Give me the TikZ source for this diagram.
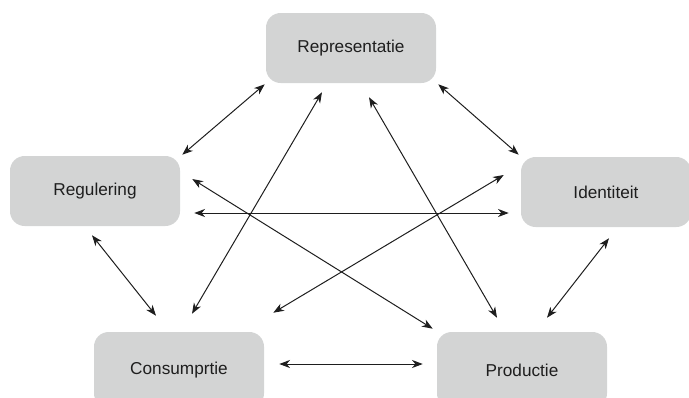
\documentclass[tikz,border=0pt]{standalone}
\usepackage{fontspec}
\setmainfont{Liberation Sans}
\usetikzlibrary{arrows.meta,calc}
\definecolor{boxgray}{RGB}{211,212,212}
\definecolor{ink}{RGB}{30,30,30}
\tikzset{
  topic/.style={rectangle, rounded corners=11pt, fill=boxgray, draw=none,
    minimum width=127.5pt, minimum height=52.5pt, inner sep=0pt,
    font=\fontsize{12.9pt}{15pt}\selectfont, text=ink},
  link/.style={draw=ink, line width=0.75pt,
    {Stealth[length=8pt,width=6pt,inset=2.4pt]}-{Stealth[length=8pt,width=6pt,inset=2.4pt]}}
}
\begin{document}
\begin{tikzpicture}[x=0.75pt,y=-0.75pt]
\useasboundingbox (0,0) rectangle (689,397);
\node[topic] (rep) at (351,48) {Representatie};
\node[topic] (reg) at (95,191) {Regulering};
\node[topic] (ide) at (606,192) {Identiteit};
\node[topic, minimum height=57pt] (con) at (179,370) {Consumprtie};
\node[topic, minimum height=57pt] (pro) at (522,370) {Productie};

\draw[link] ($(rep.south west)+(-1,1)$) -- ($(reg.north east)+(2,-1)$);
\draw[link] ($(rep.south east)+(2,1)$) -- ($(ide.north west)+(-2,-2)$);
\draw[link] ($(reg.east)+(14,22)$) -- ($(ide.west)+(-12,21)$);
\draw[link] ($(reg.east)+(12,-12)$) -- ($(pro.north west)+(-4,-3)$);
\draw[link] ($(reg.south)+(-3,9)$) -- ($(con.north)+(-23,-16)$);
\draw[link] ($(rep.south)+(-29,9)$) -- ($(con.north)+(13,-18)$);
\draw[link] ($(rep.south)+(18,14)$) -- ($(pro.north)+(-25,-14)$);
\draw[link] ($(ide.west)+(-17,-17)$) -- ($(con.north east)+(9,-19)$);
\draw[link] ($(ide.south)+(3,11)$) -- ($(pro.north)+(25,-14)$);
\draw[link] ($(con.east)+(15,-6)$) -- ($(pro.west)+(-14,-6)$);
\end{tikzpicture}
\end{document}
